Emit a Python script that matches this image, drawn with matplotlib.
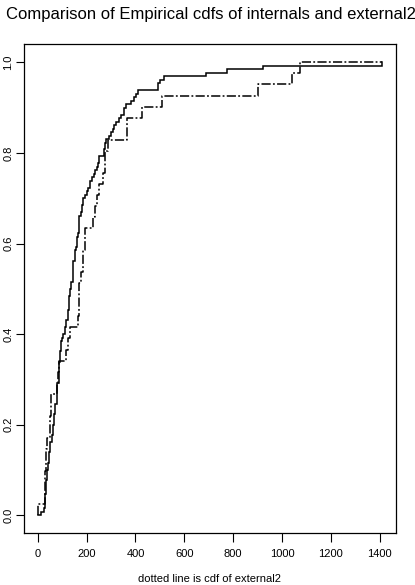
import numpy as np
import matplotlib
matplotlib.use("Agg")
import matplotlib.pyplot as plt

plt.rcParams['font.family'] = ['Liberation Sans', 'DejaVu Sans']

# sample values (sorted), internals n=130
internals = [14, 27, 31, 31, 31, 31, 34, 34, 34, 34, 39, 39, 39, 42, 42,
             46, 46, 46, 51, 51, 51, 58, 58, 62, 62, 62, 68, 68, 68, 72, 72, 72,
             77, 77, 77, 80, 80, 80, 85, 85, 85, 88, 88, 88, 91, 91, 91, 94, 94, 94,
             99, 104, 110, 110, 115, 115, 122, 122, 122, 126, 126, 126, 126,
             132, 132, 137, 137, 143, 143, 143, 146, 146, 146, 151, 151, 151,
             155, 159, 159, 159, 166, 168, 168, 170, 170, 170, 175, 181, 181,
             185, 185, 195, 200, 205, 212, 212, 222, 230, 236, 242, 246, 249, 249,
             270, 270, 277, 277, 281, 290, 301, 307, 313, 320, 331, 339, 353, 353,
             360, 383, 393, 402, 409, 492, 492, 499, 516, 689, 775, 923, 1410]

# external2 n=41
external2 = [0, 28, 31, 31, 35, 35, 39, 48, 48, 53, 53, 77, 81, 88, 117, 122,
             133, 163, 170, 170, 170, 177, 184, 184, 192, 192, 226, 236, 244,
             252, 268, 277, 277, 286, 365, 365, 425, 509, 901, 1040, 1072]

x_ticks = [0, 200, 400, 600, 800, 1000, 1200, 1400]
y_ticks = [0.0, 0.2, 0.4, 0.6, 0.8, 1.0]
y_tick_labels = ["0.0", "0.2", "0.4", "0.6", "0.8", "1.0"]

title = "Comparison of Empirical cdfs of internals and external2"
xlabel = "dotted line is cdf of external2"

W, H = 415, 585
fig = plt.figure(figsize=(W / 100, H / 100), dpi=100)
L, R, T, B = 24, 396, 44.3, 533.3
ax = fig.add_axes([L / W, 1 - B / H, (R - L) / W, (B - T) / H])

allv = np.array(internals + external2, dtype=float)
xmin, xmax = allv.min(), allv.max()


def ecdf_xy(vals):
    v = np.sort(np.asarray(vals, dtype=float))
    n = len(v)
    xs = np.concatenate([[xmin], v, [xmax]])
    ys = np.concatenate([[0.0], np.arange(1, n + 1) / n, [1.0]])
    return xs, ys


xs, ys = ecdf_xy(internals)
ax.plot(xs, ys, drawstyle='steps-post', color='black', lw=1.1,
        solid_joinstyle='miter')
xs, ys = ecdf_xy(external2)
ax.plot(xs, ys, drawstyle='steps-post', color='black', lw=1.1,
        linestyle=(0, (6.0, 1.5, 1.2, 1.5)))

rng = xmax - xmin
ax.set_xlim(xmin - 0.04 * rng, xmax + 0.04 * rng)
ax.set_ylim(-0.04, 1.04)

ax.set_xticks(x_ticks)
ax.set_xticklabels([str(t) for t in x_ticks])
ax.set_yticks(y_ticks)
ax.set_yticklabels(y_tick_labels, rotation=90, va='center')

ax.tick_params(axis='x', direction='out', length=6.5, width=0.8, colors='black',
               labelsize=8, pad=5)
ax.tick_params(axis='y', direction='out', length=6.0, width=0.8, colors='black',
               labelsize=8, pad=1.5)
for s in ax.spines.values():
    s.set_linewidth(0.9)

fig.text(210.5 / W, 1 - 15 / H, title, ha='center', va='center', fontsize=12)
fig.text(210 / W, 1 - 579 / H, xlabel, ha='center', va='center', fontsize=8)

fig.savefig("out.png", dpi=100)
